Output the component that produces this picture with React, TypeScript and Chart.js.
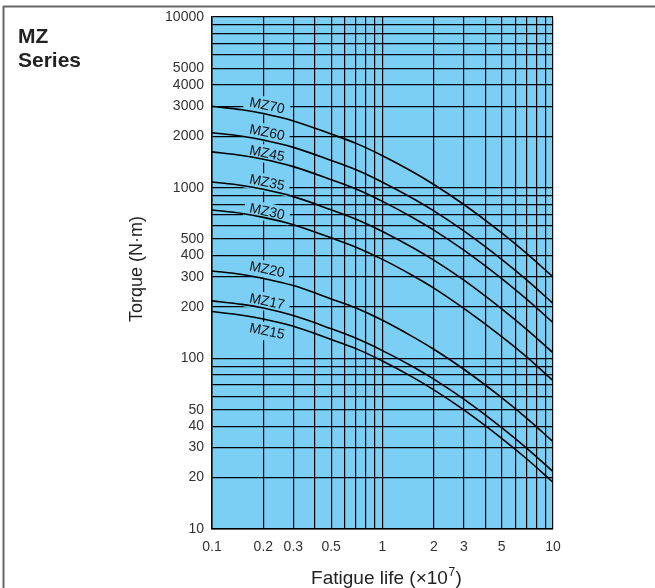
import React, { useEffect, useRef } from 'react';
import { Chart, registerables } from 'chart.js';

Chart.register(...registerables);

// Fatigue life (x10^7) sample points
const fatigueLife = [0.1, 0.15, 0.2, 0.3, 0.5, 0.7, 1, 1.5, 2, 3, 5, 7, 10];

// Torque (N·m)
const seriesNames = ['MZ70', 'MZ60', 'MZ45', 'MZ35', 'MZ30', 'MZ20', 'MZ17', 'MZ15'];
const mz70 = [3000, 2862, 2718, 2460, 2061, 1818, 1539, 1239, 1044, 797, 543, 412, 300];
const mz60 = [2100, 2003, 1903, 1722, 1443, 1273, 1077, 867, 731, 558, 380, 288, 210];
const mz45 = [1620, 1545, 1468, 1328, 1113, 982, 831, 669, 564, 430, 293, 222, 162];
const mz35 = [1080, 1030, 978, 886, 742, 654, 554, 446, 376, 287, 195, 148, 108];
const mz30 = [740, 706, 670, 607, 508, 448, 380, 306, 258, 196, 134, 102, 74];
const mz20 = [325, 310, 294, 267, 223, 197, 167, 134, 113, 86.3, 58.8, 44.6, 32.5];
const mz17 = [217, 207, 197, 178, 149, 131, 111, 89.6, 75.5, 57.6, 39.3, 29.8, 21.7];
const mz15 = [188, 179, 170, 154, 129, 114, 96.4, 77.6, 65.4, 49.9, 34.0, 25.8, 18.8];
const seriesValues = [mz70, mz60, mz45, mz35, mz30, mz20, mz17, mz15];

// Curve label anchors (data coordinates)
const labelX = [0.21, 0.21, 0.21, 0.21, 0.21, 0.21, 0.21, 0.21];
const labelY = [3006, 2090, 1574, 1064, 719, 329, 214, 143];

// Ticks / grid
const yTickValues = [10, 20, 30, 40, 50, 60, 70, 80, 90, 100, 200, 300, 400, 500, 600, 700, 800, 900,
  1000, 2000, 3000, 4000, 5000, 6000, 7000, 8000, 9000, 10000];
const yLabelValues = [10, 20, 30, 40, 50, 100, 200, 300, 400, 500, 1000, 2000, 3000, 4000, 5000, 10000];
const xTickValues = [0.1, 0.2, 0.3, 0.4, 0.5, 0.6, 0.7, 0.8, 0.9, 1, 2, 3, 4, 5, 6, 7, 8, 9, 10];
const xLabelValues = [0.1, 0.2, 0.3, 0.5, 1, 2, 3, 5, 10];

const yTitle = 'Torque (N·m)';
const xTitleMain = 'Fatigue life (×10';
const xTitleSup = '7';
const xTitleEnd = ')';
const seriesTitle = ['MZ', 'Series'];

const FONT = '"Liberation Sans", Arial, Helvetica, sans-serif';
const BLUE = '#7ccff4';

const decorPlugin = {
  id: 'decor',
  beforeDraw(chart: any) {
    const { ctx, chartArea: a } = chart;
    ctx.save();
    ctx.fillStyle = '#ffffff';
    ctx.fillRect(0, 0, chart.width, chart.height);
    ctx.fillStyle = BLUE;
    ctx.fillRect(a.left, a.top, a.right - a.left, a.bottom - a.top);
    ctx.restore();
  },
  beforeDatasetsDraw(chart: any) {
    const { ctx } = chart;
    const xs = chart.scales.x;
    const ys = chart.scales.y;
    ctx.save();
    seriesNames.forEach((name, i) => {
      const px = xs.getPixelForValue(labelX[i]);
      const py = ys.getPixelForValue(labelY[i]);
      ctx.save();
      ctx.translate(px, py);
      ctx.rotate(0.2);
      ctx.fillStyle = BLUE;
      ctx.fillRect(-23, -9, 46, 18);
      ctx.fillStyle = '#111';
      ctx.font = `14px ${FONT}`;
      ctx.textAlign = 'center';
      ctx.textBaseline = 'middle';
      ctx.fillText(name, 0, 0);
      ctx.restore();
    });
    ctx.restore();
  },
  afterDraw(chart: any) {
    const { ctx, chartArea: a } = chart;
    ctx.save();
    // frame lines
    ctx.strokeStyle = '#666';
    ctx.lineWidth = 2;
    ctx.beginPath();
    ctx.moveTo(3, 6.5);
    ctx.lineTo(chart.width, 6.5);
    ctx.moveTo(3.5, 6);
    ctx.lineTo(3.5, chart.height);
    ctx.stroke();
    // series title
    ctx.fillStyle = '#222';
    ctx.font = `bold 21px ${FONT}`;
    ctx.textAlign = 'left';
    ctx.textBaseline = 'alphabetic';
    ctx.fillText(seriesTitle[0], 18, 43);
    ctx.fillText(seriesTitle[1], 18, 66.5);
    // x axis title with superscript
    ctx.fillStyle = '#222';
    const mainFont = `19px ${FONT}`;
    const supFont = `12px ${FONT}`;
    ctx.font = mainFont;
    const w1 = ctx.measureText(xTitleMain).width;
    const w3 = ctx.measureText(xTitleEnd).width;
    ctx.font = supFont;
    const w2 = ctx.measureText(xTitleSup).width;
    const total = w1 + w2 + 1 + w3;
    const x0 = (a.left + a.right) / 2 + 4 - total / 2;
    const base = 584;
    ctx.textAlign = 'left';
    ctx.font = mainFont;
    ctx.fillText(xTitleMain, x0, base);
    ctx.font = supFont;
    ctx.fillText(xTitleSup, x0 + w1 + 0.5, base - 8);
    ctx.font = mainFont;
    ctx.fillText(xTitleEnd, x0 + w1 + w2 + 1, base);
    // y axis title
    ctx.font = `18px ${FONT}`;
    ctx.textAlign = 'center';
    ctx.save();
    ctx.translate(137, (a.top + a.bottom) / 2 - 4);
    ctx.rotate(-Math.PI / 2);
    ctx.textBaseline = 'middle';
    ctx.fillText(yTitle, 0, 0);
    ctx.restore();
    ctx.restore();
  },
};

export default function App() {
  const canvasRef = useRef<HTMLCanvasElement | null>(null);

  useEffect(() => {
    const canvas = canvasRef.current;
    if (!canvas) return;
    const chart = new Chart(canvas, {
      type: 'line',
      data: {
        datasets: seriesNames.map((name, i) => ({
          label: name,
          data: fatigueLife.map((x, j) => ({ x, y: seriesValues[i][j] })),
          borderColor: '#000',
          borderWidth: 1.6,
          pointRadius: 0,
          fill: false,
          cubicInterpolationMode: 'monotone' as const,
        })),
      },
      options: {
        responsive: false,
        animation: false,
        events: [],
        layout: { padding: { top: 17, right: 102, left: 0, bottom: 0 } },
        plugins: {
          legend: { display: false },
          tooltip: { enabled: false },
          title: { display: false },
        },
        scales: {
          x: {
            type: 'logarithmic',
            min: 0.1,
            max: 10,
            afterBuildTicks: (s: any) => {
              s.ticks = xTickValues.map((v) => ({ value: v }));
            },
            afterFit: (s: any) => {
              s.height = 59;
            },
            ticks: {
              autoSkip: false,
              maxRotation: 0,
              minRotation: 0,
              padding: 10,
              color: '#333',
              font: { family: FONT, size: 14 },
              callback: (v: any) => (xLabelValues.includes(Number(v)) ? String(v) : ''),
            },
            grid: { color: '#000', lineWidth: 1.2, drawTicks: false },
            border: { color: '#000', width: 1.5 },
          },
          y: {
            type: 'logarithmic',
            min: 10,
            max: 10000,
            afterBuildTicks: (s: any) => {
              s.ticks = yTickValues.map((v) => ({ value: v }));
            },
            afterFit: (s: any) => {
              s.width = 212;
            },
            ticks: {
              autoSkip: false,
              padding: 8,
              color: '#333',
              font: { family: FONT, size: 14 },
              callback: (v: any) => (yLabelValues.includes(Number(v)) ? String(v) : ''),
            },
            grid: { color: '#000', lineWidth: 1.2, drawTicks: false },
            border: { color: '#000', width: 1.5 },
          },
        },
      },
      plugins: [decorPlugin],
    } as any);
    return () => chart.destroy();
  }, []);

  return (
    <div style={{ position: 'fixed', left: 0, top: 0, width: 655, height: 588, background: '#fff' }}>
      <canvas ref={canvasRef} width={655} height={588} style={{ display: 'block' }} />
    </div>
  );
}
